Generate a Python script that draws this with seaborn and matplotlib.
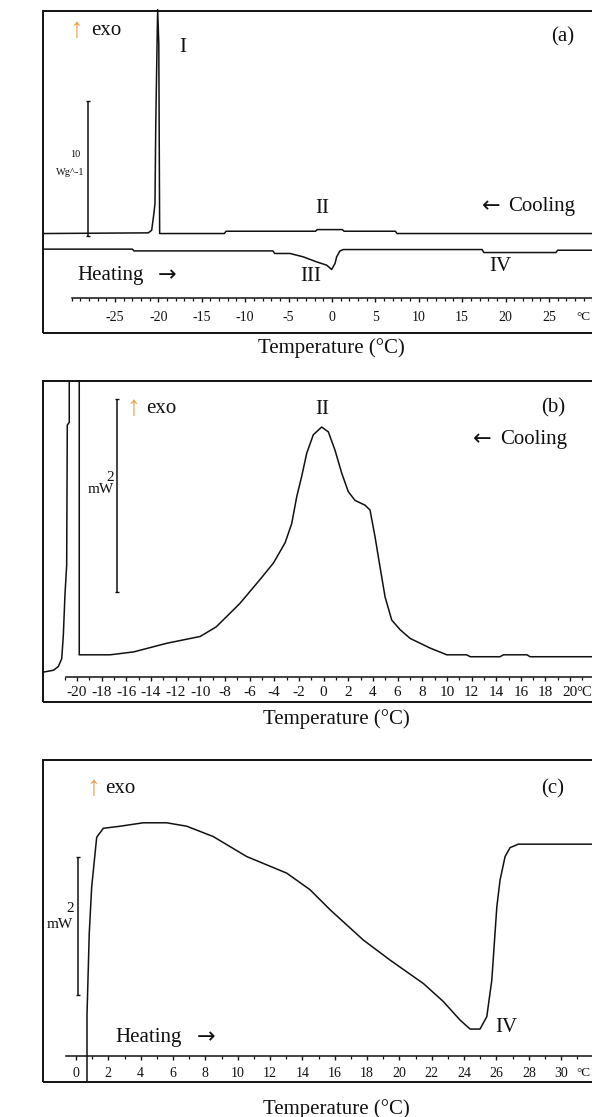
import matplotlib
matplotlib.use("Agg")
import matplotlib.pyplot as plt
import numpy as np
import pandas as pd
import seaborn as sns
from matplotlib.patches import Rectangle
from matplotlib.ticker import FixedLocator, FixedFormatter, NullFormatter

sns.set_style("white")
plt.rcParams["font.family"] = ["Liberation Serif", "DejaVu Serif"]

INK = "#111111"
ORANGE = "#E9A24E"

# ---------------- data ----------------
# (a) whole run, heat flow (W/g, cooling baseline = 0)
a_cool_temp = [-33.3, -21.16, -20.77, -20.51, -20.39, -20.30, -20.15, -20.08, -19.95, -19.85,
               -12.4, -12.2, -1.9, -1.7, 1.2, 1.4, 7.3, 7.5, 31.0]
a_cool_hf = [0.0, 0.05, 0.24, 1.5, 2.2, 8.0, 14.0, 16.5, 14.0, 0.0,
             0.0, 0.17, 0.17, 0.29, 0.29, 0.17, 0.17, 0.0, 0.0]
a_heat_temp = [-33.3, -23.0, -22.8, -6.8, -6.6, -4.84, -3.3, -1.76, -0.61, -0.04, 0.35,
               0.54, 0.92, 1.3, 17.3, 17.5, 25.8, 26.0, 31.0]
a_heat_hf = [-1.15, -1.15, -1.28, -1.28, -1.47, -1.47, -1.72, -2.09, -2.33, -2.65, -2.21,
             -1.72, -1.28, -1.18, -1.18, -1.40, -1.40, -1.23, -1.23]
a_ticks = [-25, -20, -15, -10, -5, 0, 5, 10, 15, 20, 25]

# (b) cooling, heat flow (mW)
b_cool_temp = [-19.81, -19.81, -17.3, -15.4, -12.7, -10.0, -8.7, -6.8, -5.15, -4.07, -3.12,
               -2.58, -2.17, -1.77, -1.36, -0.83, -0.15, 0.39, 0.93, 1.48, 2.01, 2.55, 3.37,
               3.77, 4.18, 4.58, 4.99, 5.53, 6.21, 7.02, 8.64, 10.0, 11.6, 11.9, 14.3, 14.6,
               16.5, 16.75, 22.5]
b_cool_hf = [3.2, 0.02, 0.02, 0.05, 0.14, 0.21, 0.31, 0.55, 0.80, 0.97, 1.18,
             1.38, 1.66, 1.87, 2.11, 2.30, 2.38, 2.33, 2.14, 1.90, 1.71, 1.62, 1.57,
             1.52, 1.24, 0.93, 0.62, 0.38, 0.28, 0.19, 0.09, 0.02, 0.02, 0.0, 0.0, 0.02,
             0.02, 0.0, 0.0]
b_low_temp = [-22.75, -21.9, -21.5, -21.23, -21.1, -20.97, -20.83, -20.78, -20.62, -20.62]
b_low_hf = [-0.16, -0.14, -0.10, -0.02, 0.225, 0.64, 0.95, 2.40, 2.43, 3.2]
b_ticks = list(range(-20, 21, 2))

# (c) heating, heat flow (mW)
c_temp = [0.68, 0.68, 0.82, 0.97, 1.28, 1.69, 2.72, 4.16, 5.61, 6.85, 8.49, 10.56, 13.03,
          14.47, 15.71, 17.77, 19.42, 21.48, 22.71, 23.75, 24.37, 24.98, 25.4, 25.71, 26.02,
          26.22, 26.53, 26.84, 27.35, 32.5]
c_hf = [-0.5, 0.59, 1.78, 2.45, 3.17, 3.30, 3.33, 3.38, 3.38, 3.33, 3.18, 2.89, 2.65,
        2.41, 2.12, 1.68, 1.39, 1.05, 0.79, 0.52, 0.39, 0.39, 0.57, 1.10, 2.16,
        2.55, 2.89, 3.02, 3.07, 3.07]
c_ticks = list(range(0, 31, 2))

# scale bars (temperature position, low, high)
a_bar = (-28.1, -0.2, 9.8)
b_bar = (-16.75, 0.67, 2.67)
c_bar = (0.12, 0.88, 2.88)

W, H = 592, 1117
fig = plt.figure(figsize=(W / 100, H / 100), dpi=100)
fig.patch.set_facecolor("white")


def make_axes(top_px, bot_px):
    left = 43 / W
    width = (600 - 43) / W
    ax = fig.add_axes([left, 1 - bot_px / H, width, (bot_px - top_px) / H])
    ax.set_facecolor("none")
    for s in ["left", "top", "right"]:
        ax.spines[s].set_visible(False)
    ax.add_patch(Rectangle((0, 0), 1, 1, transform=ax.transAxes, fill=False,
                           lw=1.4, ec=INK, clip_on=False, zorder=5))
    ax.set_yticks([])
    return ax


def trace(ax, T, hf, clip=True):
    sns.lineplot(x=T, y=hf, sort=False, estimator=None, ax=ax, color=INK, lw=1.1)
    ax.lines[-1].set_clip_on(clip)


def inner_axis(ax, y0, xstart, xend, majors, minors, fs, pad, deg_x):
    sp = ax.spines["bottom"]
    sp.set_position(("data", y0))
    sp.set_bounds(xstart, xend)
    sp.set_linewidth(1.1)
    sp.set_color(INK)
    ax.xaxis.set_major_locator(FixedLocator(majors))
    ax.xaxis.set_major_formatter(FixedFormatter([str(t) for t in majors]))
    ax.xaxis.set_minor_locator(FixedLocator(minors))
    ax.xaxis.set_minor_formatter(NullFormatter())
    ax.tick_params(axis="x", which="major", direction="out", length=3.2, width=1.0,
                   pad=pad, labelsize=fs, colors=INK, bottom=True)
    ax.tick_params(axis="x", which="minor", direction="out", length=2.0, width=0.9,
                   bottom=True, colors=INK)
    ax.annotate("°C", xy=(deg_x, y0), xytext=(0, -(3.2 + pad)), textcoords="offset points",
                ha="center", va="top", fontsize=fs - 0.5, color=INK, annotation_clip=False)


def scale_bar(ax, bar):
    x, lo, hi = bar
    ax.errorbar([x], [(lo + hi) / 2], yerr=[(hi - lo) / 2], color=INK, lw=1.1,
                capsize=1.5, capthick=1.0)


def labels(ax, xlab_x, xlab_y, ylab_x, ylab_y):
    ax.set_xlabel("Temperature (°C)", fontsize=15, color=INK)
    ax.xaxis.set_label_coords(xlab_x, xlab_y)
    ax.xaxis.label.set_va("center")
    ax.set_ylabel("Heat flow", fontsize=15, color=INK)
    ax.yaxis.set_label_coords(ylab_x, ylab_y)
    ax.yaxis.label.set_va("center")


def corner(ax, ax_x, exo_x, y, tag, tag_x, tag_y):
    ax.text(ax_x, y, "↑", transform=ax.transAxes, color=ORANGE, fontsize=20,
            ha="center", va="center", family=["Liberation Serif", "DejaVu Sans"])
    ax.text(exo_x, y, "exo", transform=ax.transAxes, color=INK, fontsize=15,
            ha="left", va="center")
    ax.text(tag_x, tag_y, tag, transform=ax.transAxes, color=INK, fontsize=15,
            ha="center", va="center")


def arrow_word(ax, word, word_x, arrow_x, y):
    ax.text(word_x, y, word, color=INK, fontsize=15, ha="left", va="center")
    glyph = "←" if arrow_x < word_x else "→"
    ax.text(arrow_x, y, glyph, color=INK, fontsize=16, ha="center", va="center",
            family=["DejaVu Sans"])


TXT = dict(color=INK, fontsize=15, ha="center", va="center")

# ---------------- panel (a) ----------------
axa = make_axes(11, 333)
axa.set_xlim(-33.29, 30.88)
axa.set_ylim(-7.33, 16.4)
trace(axa, a_cool_temp, a_cool_hf, clip=False)
trace(axa, a_heat_temp, a_heat_hf)
inner_axis(axa, -4.76, -30, 31, a_ticks, list(range(-30, 32)), 10, 6.0, 29.0)
scale_bar(axa, a_bar)
axa.text(-29.6, 5.83, "10", color=INK, fontsize=7.5, ha="center", va="center")
axa.text(-30.1, 4.5, "Wg^-1", color=INK, fontsize=7.5, ha="center", va="center")
axa.text(-17.2, 13.7, "I", **TXT)
axa.text(-1.15, 1.86, "II", **TXT)
arrow_word(axa, "Cooling", 20.26, 18.3, 2.0)
arrow_word(axa, "Heating", -29.3, -18.99, -3.07)
axa.text(-2.4, -3.14, "III", **TXT)
axa.text(19.35, -2.40, "IV", **TXT)
corner(axa, 0.059, 0.0862, 0.938, "(a)", 0.9336, 0.919)
labels(axa, 0.518, -0.047, -0.0413, 0.475)

# ---------------- panel (b) ----------------
axb = make_axes(381, 702)
axb.set_xlim(-22.75, 22.42)
axb.set_ylim(-0.469, 2.857)
trace(axb, b_low_temp, b_low_hf)
trace(axb, b_cool_temp, b_cool_hf)
inner_axis(axb, -0.207, -20.9, 23, b_ticks, list(range(-21, 24, 2)), 11, 3.8, 21.13)
scale_bar(axb, b_bar)
axb.text(-17.3, 1.86, "2", color=INK, fontsize=11, ha="center", va="center")
axb.text(-18.1, 1.73, "mW", color=INK, fontsize=11, ha="center", va="center")
axb.text(-0.12, 2.56, "II", **TXT)
arrow_word(axb, "Cooling", 14.31, 12.86, 2.25)
corner(axb, 0.1616, 0.185, 0.913, "(b)", 0.9156, 0.916)
labels(axb, 0.527, -0.053, -0.031, 0.5)

# ---------------- panel (c) ----------------
axc = make_axes(760, 1082)
axc.set_xlim(-2.04, 32.4)
axc.set_ylim(-0.377, 4.29)
trace(axc, c_temp, c_hf)
inner_axis(axc, 0.0, -0.62, 33, c_ticks, list(range(1, 34, 2)), 10, 4.5, 31.4)
scale_bar(axc, c_bar)
axc.text(-0.37, 2.14, "2", color=INK, fontsize=11, ha="center", va="center")
axc.text(-0.99, 1.90, "mW", color=INK, fontsize=11, ha="center", va="center")
axc.text(26.59, 0.42, "IV", **TXT)
arrow_word(axc, "Heating", 2.41, 8.04, 0.275)
corner(axc, 0.0898, 0.111, 0.910, "(c)", 0.9156, 0.910)
labels(axc, 0.527, -0.084, -0.0413, 0.492)

fig.savefig("out.png", dpi=100, facecolor="white")
